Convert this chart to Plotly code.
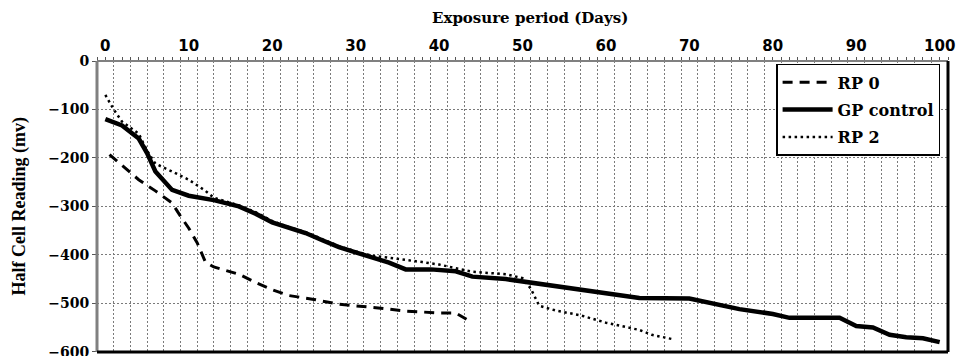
import plotly.graph_objects as go

# ---- data ----
days_rp0 = [0.5, 2, 4, 6, 8, 9, 10, 11, 12, 13, 16, 18, 20, 22, 25, 28, 30, 33, 36, 40, 42, 44]
mv_rp0 = [-193, -215, -245, -268, -293, -320, -345, -375, -415, -425, -440, -457, -472, -484, -492, -502, -505, -510, -516, -520, -520, -540]

days_gp = [0, 2, 4, 5, 6, 8, 10, 13, 16, 18, 20, 22, 24, 26, 28, 30, 32, 34, 36, 39, 42, 44, 48,
           52, 55, 58, 60, 62, 64, 70, 72, 76, 80, 82, 88, 90, 92, 94, 96, 98, 100]
mv_gp = [-120, -133, -160, -190, -228, -266, -278, -287, -300, -315, -333, -345, -355, -370, -384, -395, -405, -416, -430, -430, -434, -445, -450,
         -460, -468, -474, -480, -484, -489, -490, -498, -512, -522, -530, -530, -547, -550, -565, -570, -572, -580]

days_rp2 = [0, 1, 2, 4, 5, 6, 8, 10, 12, 13, 16, 18, 20, 22, 24, 26, 28, 30, 32, 34, 36, 38, 40, 42, 44,
            48, 50, 51, 52, 54, 57, 60, 62, 64, 65.5, 68]
mv_rp2 = [-70, -100, -125, -150, -185, -212, -228, -245, -268, -282, -298, -312, -330, -343, -353, -368, -382, -393, -402, -406, -410, -415, -420, -428, -435,
          -440, -448, -470, -505, -515, -525, -540, -548, -555, -565, -574]

x_label_ticks = list(range(0, 101, 10))
y_ticks = [0, -100, -200, -300, -400, -500, -600]
grid_days = list(range(1, 100, 2))
all_days = list(range(-1, 102))

fig = go.Figure()
fig.add_trace(go.Scatter(x=days_rp0, y=mv_rp0, mode='lines', name='RP 0', legendgroup='a',
                         line=dict(color='black', width=3, dash='10px,7px')))
fig.add_trace(go.Scatter(x=days_gp, y=mv_gp, mode='lines', name='GP control', legendgroup='b',
                         line=dict(color='black', width=4.5)))
fig.add_trace(go.Scatter(x=days_rp2, y=mv_rp2, mode='lines', name='RP 2', legendgroup='c',
                         line=dict(color='black', width=2.5, dash='2.5px,3.5px')))
# invisible helper trace so the grid axis is drawn
fig.add_trace(go.Scatter(x=[None], y=[None], xaxis='x2', showlegend=False, hoverinfo='skip'))

serif_bold = dict(family='DejaVu Serif', size=14, color='black', weight='bold')

fig.update_layout(
    width=957, height=356,
    margin=dict(l=97, r=9, t=61, b=4, autoexpand=False),
    paper_bgcolor='white', plot_bgcolor='white',
    showlegend=True,
    legend=dict(
        x=0.798, y=0.99, xanchor='left', yanchor='top',
        bgcolor='white', bordercolor='black', borderwidth=1.5,
        font=dict(family='DejaVu Serif', size=16, color='black', weight='bold'),
        itemwidth=50, tracegroupgap=3.5, traceorder='grouped',
    ),
    xaxis=dict(
        side='top', range=[-1, 101], automargin=False,
        tickmode='array', tickvals=all_days,
        ticktext=[str(d) if d in x_label_ticks else '' for d in all_days],
        ticks='outside', ticklen=3, tickcolor='#555', tickwidth=1,
        tickfont=dict(family='DejaVu Sans', size=15, color='black', weight='bold'),
        showgrid=False, zeroline=False, showline=False, ticklabeloverflow='allow',
    ),
    xaxis2=dict(
        overlaying='x', matches='x', side='bottom', range=[-1, 101], automargin=False,
        tickmode='array', tickvals=grid_days, showticklabels=False, ticks='',
        showgrid=True, gridcolor='#7a7a7a', gridwidth=1, griddash='2px,2px',
        zeroline=False, showline=False,
    ),
    yaxis=dict(
        range=[-600.5, 0], tickmode='array', tickvals=y_ticks, automargin=False,
        ticks='outside', ticklen=4, tickcolor='#555',
        tickfont=serif_bold, ticklabeloverflow='allow',
        showgrid=True, gridcolor='#7a7a7a', gridwidth=1, griddash='2px,2px',
        zeroline=False, showline=False,
    ),
    annotations=[
        dict(text='Exposure period (Days)', xref='paper', yref='paper', x=0.509, y=1,
             yshift=43, xanchor='center', yanchor='middle', showarrow=False,
             font=dict(family='DejaVu Serif', size=15, color='black', weight='bold')),
        dict(text='Half Cell Reading (mv)', xref='paper', yref='paper', x=-0.0905, y=0.5,
             xanchor='center', yanchor='middle', textangle=-90, showarrow=False,
             font=dict(family='Liberation Serif', size=18, color='black', weight='bold')),
    ],
    shapes=[
        dict(type='line', xref='paper', yref='paper', x0=0, x1=0, y0=0, y1=1,
             line=dict(color='#808080', width=3), layer='above'),
        dict(type='line', xref='paper', yref='paper', x0=0, x1=1, y0=1, y1=1,
             line=dict(color='#808080', width=2), layer='above'),
        dict(type='line', xref='paper', yref='paper', x0=1, x1=1, y0=0, y1=1,
             line=dict(color='black', width=3), layer='above'),
        dict(type='line', xref='paper', yref='paper', x0=0, x1=1, y0=0, y1=0,
             line=dict(color='black', width=3), layer='above'),
    ],
)

fig.write_html('out.html')
